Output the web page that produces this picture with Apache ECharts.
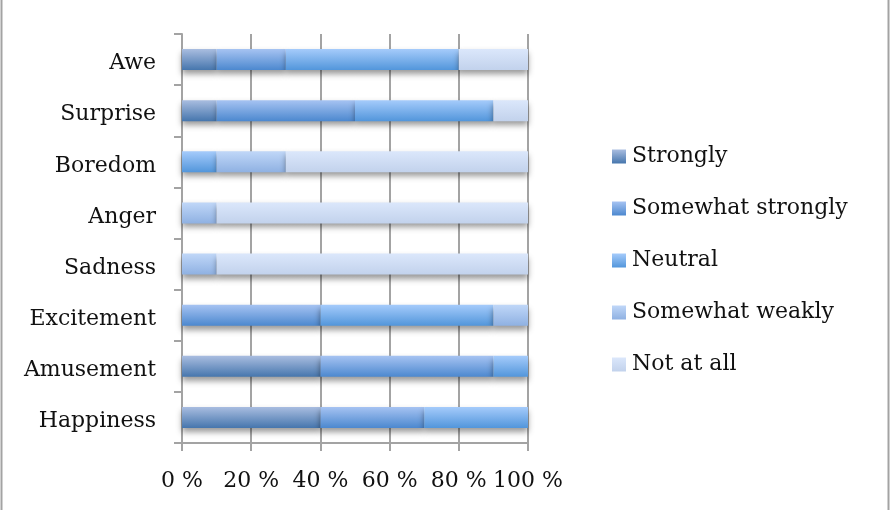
<!DOCTYPE html>
<html>
<head>
<meta charset="utf-8">
<script src="https://cdn.jsdelivr.net/npm/echarts@6/dist/echarts.min.js"></script>
<style>
  html, body { margin: 0; padding: 0; background: #fff; }
  #chart { width: 891px; height: 510px; }
</style>
</head>
<body>
<div id="chart"></div>
<script>
// Emotions, listed bottom to top as the category axis draws them
const emotions = ['Happiness', 'Amusement', 'Excitement', 'Sadness', 'Anger', 'Boredom', 'Surprise', 'Awe'];

// Share of responses (%) per intensity level, in the same order as emotions
const strongly         = [40, 40,  0,  0,  0,  0, 10, 10];
const somewhatStrongly = [30, 50, 40,  0,  0,  0, 40, 20];
const neutral          = [30, 10, 50,  0,  0, 10, 40, 50];
const somewhatWeakly   = [ 0,  0, 10, 10, 10, 20,  0,  0];
const notAtAll         = [ 0,  0,  0, 90, 90, 70, 10, 20];

const seriesNames = ['Strongly', 'Somewhat strongly', 'Neutral', 'Somewhat weakly', 'Not at all'];
const seriesValues = [strongly, somewhatStrongly, neutral, somewhatWeakly, notAtAll];
const xTicks = [0, 20, 40, 60, 80, 100];

// top / bottom colours of each segment's vertical gradient
const palette = [
  ['#a9bde0', '#4676ad'],
  ['#a6c3f2', '#4c88cf'],
  ['#a5cbfb', '#5296db'],
  ['#c0d7f8', '#8fb1e2'],
  ['#dbe7fb', '#c2d2ec']
];

const FONT = '"DejaVu Serif", "Liberation Serif", serif';
const chart = echarts.init(document.getElementById('chart'));

function gradient(i) {
  return new echarts.graphic.LinearGradient(0, 0, 0, 1, [
    { offset: 0, color: palette[i][0] },
    { offset: 1, color: palette[i][1] }
  ]);
}

const series = seriesNames.map((name, i) => ({
  name: name,
  type: 'bar',
  stack: 'total',
  barWidth: '41%',
  data: seriesValues[i],
  itemStyle: {
    color: gradient(i),
    shadowColor: 'rgba(0,0,0,0.4)',
    shadowBlur: 6,
    shadowOffsetY: 4
  },
  emphasis: { disabled: true }
}));

chart.setOption({
  animation: false,
  backgroundColor: '#ffffff',
  grid: { left: 182, right: 363, top: 34, bottom: 67, containLabel: false },
  legend: {
    orient: 'vertical',
    left: 612,
    top: 144,
    padding: 0,
    itemWidth: 14,
    itemHeight: 14,
    itemGap: 27,
    icon: 'rect',
    selectedMode: false,
    textStyle: { fontFamily: FONT, fontSize: 22, color: '#111', lineHeight: 22, padding: [3, 0, 0, 1] },
    data: seriesNames.map((n, i) => ({ name: n, itemStyle: { color: gradient(i) } }))
  },
  xAxis: {
    type: 'value',
    min: xTicks[0],
    max: xTicks[xTicks.length - 1],
    interval: 20,
    axisLine: { show: true, lineStyle: { color: '#a3a3a3', width: 2 } },
    axisTick: { show: true, length: 8, lineStyle: { color: '#a3a3a3', width: 2 } },
    splitLine: { show: true, lineStyle: { color: '#a3a3a3', width: 2 } },
    axisLabel: {
      margin: 27,
      fontFamily: FONT,
      fontSize: 22,
      color: '#111',
      formatter: '{value} %'
    }
  },
  yAxis: {
    type: 'category',
    data: emotions,
    axisLine: { show: true, lineStyle: { color: '#a3a3a3', width: 2 } },
    axisTick: { show: true, length: 8, lineStyle: { color: '#a3a3a3', width: 2 } },
    axisLabel: {
      margin: 26,
      formatter: (v) => '{v|' + v + '}',
      rich: {
        v: {
          fontFamily: FONT,
          fontSize: 22,
          color: '#111',
          lineHeight: 22,
          padding: [8, 0, 0, 0]
        }
      }
    }
  },
  graphic: [
    { type: 'line', shape: { x1: 1.5, y1: 0, x2: 1.5, y2: 510 }, style: { stroke: '#a3a3a3', lineWidth: 2 } },
    { type: 'line', shape: { x1: 888.5, y1: 0, x2: 888.5, y2: 510 }, style: { stroke: '#a3a3a3', lineWidth: 2 } }
  ],
  series: series
});
</script>
</body>
</html>
